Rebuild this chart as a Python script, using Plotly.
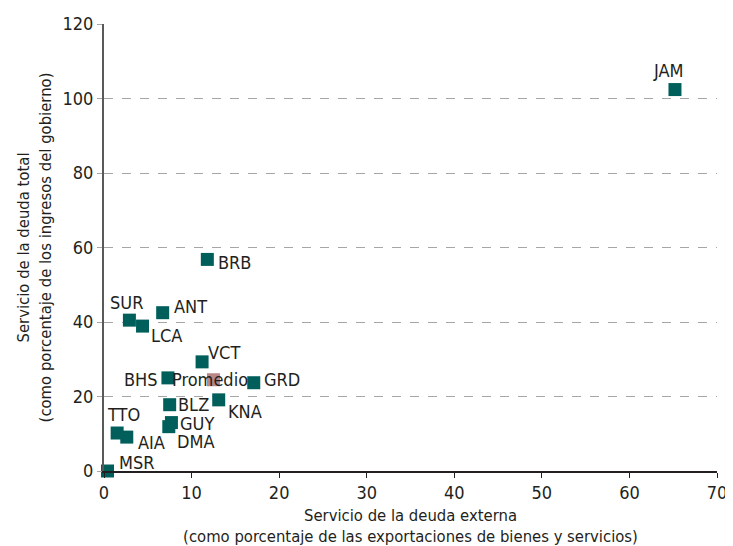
import plotly.graph_objects as go

countries = ['JAM', 'BRB', 'ANT', 'SUR', 'LCA', 'VCT', 'BHS', 'GRD', 'BLZ', 'KNA',
             'GUY', 'DMA', 'TTO', 'AIA', 'MSR']
ext_debt = [65.2, 11.8, 6.7, 2.9, 4.4, 11.2, 7.3, 17.1, 7.5, 13.1, 7.7, 7.4, 1.5, 2.6, 0.4]
total_debt = [102.4, 56.8, 42.5, 40.5, 38.9, 29.3, 25.0, 23.7, 17.8, 19.1, 13.0, 11.9, 10.2, 9.1, 0.0]

avg_x = [12.5]
avg_y = [24.5]
avg_label = 'Promedio'

# label placement: anchor, x offset, y offset (px)
label_pos = [('center', -6, 19), ('left', 9, -3), ('left', 9, 6), ('center', -3, 18),
             ('left', 6, -9), ('left', 4, 9), ('right', -8, -2), ('left', 8, 3),
             ('left', 6, 0), ('left', 7, -12), ('left', 7, -1), ('left', 6, -15),
             ('center', 6, 19), ('left', 9, -5), ('left', 9, 9)]

font = 'DejaVu Sans Condensed'
txt = '#231f20'

fig = go.Figure()
fig.add_trace(go.Scatter(
    x=ext_debt, y=total_debt, mode='markers', cliponaxis=False,
    marker=dict(symbol='square', size=13, color='#005f5b')))
fig.add_trace(go.Scatter(
    x=avg_x, y=avg_y, mode='markers', cliponaxis=False,
    marker=dict(symbol='square', size=13, color='#b98787')))

for c, x, y, (anc, dx, dy) in zip(countries, ext_debt, total_debt, label_pos):
    fig.add_annotation(x=x, y=y, text=c, showarrow=False, xanchor=anc, yanchor='middle',
                       xshift=dx, yshift=dy, font=dict(family=font, size=18, color=txt))
fig.add_annotation(x=avg_x[0], y=avg_y[0], text=avg_label, showarrow=False,
                   xanchor='center', yanchor='middle', xshift=-3, yshift=0,
                   font=dict(family=font, size=18, color=txt))

# page body has an 8px margin, so the figure is sized to fit the 733x546 window
fig.update_layout(
    width=725, height=538, showlegend=False,
    plot_bgcolor='white', paper_bgcolor='white',
    margin=dict(l=96, r=16, t=16, b=75),
    font=dict(family=font, size=18, color=txt),
    xaxis=dict(range=[0, 70], dtick=10, showgrid=False, zeroline=False, automargin=False,
               showline=True, linecolor=txt, linewidth=1.5,
               ticks='outside', ticklen=5, tickcolor=txt,
               tickfont=dict(size=18),
               title=dict(text='Servicio de la deuda externa<br>(como porcentaje de las exportaciones de bienes y servicios)',
                          font=dict(size=16.5), standoff=7)),
    yaxis=dict(range=[0, 120], dtick=20, showgrid=True, gridcolor='#a6a6a6',
               griddash='dash', gridwidth=1, zeroline=False, automargin=False,
               showline=True, linecolor='#595959', linewidth=2,
               ticks='outside', ticklen=5, tickcolor='#a6a6a6',
               tickfont=dict(size=18),
               title=dict(text='Servicio de la deuda total<br>(como porcentaje de los ingresos del gobierno)',
                          font=dict(size=16.5), standoff=7)),
)

fig.write_html("out.html")
